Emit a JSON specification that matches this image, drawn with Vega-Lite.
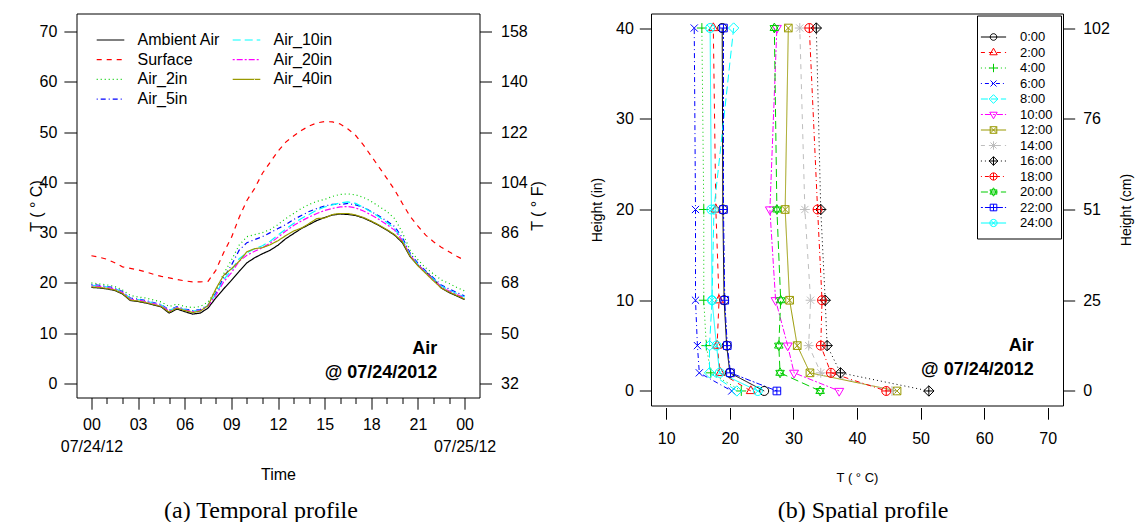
{
  "$schema": "https://vega.github.io/schema/vega-lite/v6.json",
  "padding": {"left": 27.5, "top": 12.5, "right": 0, "bottom": 0},
  "background": "white",
  "spacing": 43.5,
  "config": {
    "view": {"stroke": "black", "strokeWidth": 1},
    "font": "Liberation Sans",
    "axis": {"grid": false, "domain": false, "tickColor": "black", "labelColor": "black", "titleColor": "black", "labelFont": "Liberation Sans", "titleFont": "Liberation Sans", "titleFontWeight": "normal", "tickWidth": 1, "labelFontSize": 16},
    "legend": {"labelFont": "Liberation Sans", "labelColor": "black"}
  },
  "datasets": {
    "temporal": [
      {"h": 0, "Ambient Air": 19.1, "Surface": 25.4, "Air_2in": 20.0, "Air_5in": 19.7, "Air_10in": 19.5, "Air_20in": 19.4, "Air_40in": 19.2},
      {"h": 0.5, "Ambient Air": 19.0, "Surface": 25.1, "Air_2in": 19.8, "Air_5in": 19.5, "Air_10in": 19.4, "Air_20in": 19.3, "Air_40in": 19.1},
      {"h": 1, "Ambient Air": 18.8, "Surface": 24.7, "Air_2in": 19.6, "Air_5in": 19.3, "Air_10in": 19.2, "Air_20in": 19.1, "Air_40in": 18.9},
      {"h": 1.5, "Ambient Air": 18.5, "Surface": 24.0, "Air_2in": 19.3, "Air_5in": 19.0, "Air_10in": 18.9, "Air_20in": 18.8, "Air_40in": 18.6},
      {"h": 2, "Ambient Air": 17.8, "Surface": 23.2, "Air_2in": 18.6, "Air_5in": 18.3, "Air_10in": 18.2, "Air_20in": 18.1, "Air_40in": 17.9},
      {"h": 2.5, "Ambient Air": 16.5, "Surface": 22.9, "Air_2in": 17.5, "Air_5in": 17.0, "Air_10in": 16.9, "Air_20in": 16.8, "Air_40in": 16.6},
      {"h": 3, "Ambient Air": 16.3, "Surface": 22.6, "Air_2in": 17.2, "Air_5in": 16.8, "Air_10in": 16.7, "Air_20in": 16.6, "Air_40in": 16.4},
      {"h": 3.5, "Ambient Air": 16.0, "Surface": 22.2, "Air_2in": 17.0, "Air_5in": 16.5, "Air_10in": 16.4, "Air_20in": 16.3, "Air_40in": 16.1},
      {"h": 4, "Ambient Air": 15.6, "Surface": 21.7, "Air_2in": 16.6, "Air_5in": 16.1, "Air_10in": 16.0, "Air_20in": 15.9, "Air_40in": 15.7},
      {"h": 4.5, "Ambient Air": 15.2, "Surface": 21.3, "Air_2in": 16.2, "Air_5in": 15.7, "Air_10in": 15.6, "Air_20in": 15.5, "Air_40in": 15.3},
      {"h": 5, "Ambient Air": 14.0, "Surface": 21.0, "Air_2in": 15.3, "Air_5in": 14.6, "Air_10in": 14.5, "Air_20in": 14.4, "Air_40in": 14.2},
      {"h": 5.5, "Ambient Air": 14.8, "Surface": 20.7, "Air_2in": 15.8, "Air_5in": 15.3, "Air_10in": 15.2, "Air_20in": 15.1, "Air_40in": 15.0},
      {"h": 6, "Ambient Air": 14.3, "Surface": 20.4, "Air_2in": 15.3, "Air_5in": 14.8, "Air_10in": 14.7, "Air_20in": 14.6, "Air_40in": 14.5},
      {"h": 6.5, "Ambient Air": 13.8, "Surface": 20.2, "Air_2in": 15.1, "Air_5in": 14.5, "Air_10in": 14.4, "Air_20in": 14.3, "Air_40in": 14.1},
      {"h": 7, "Ambient Air": 14.0, "Surface": 20.2, "Air_2in": 15.3, "Air_5in": 14.7, "Air_10in": 14.6, "Air_20in": 14.5, "Air_40in": 14.4},
      {"h": 7.5, "Ambient Air": 15.0, "Surface": 20.3, "Air_2in": 16.2, "Air_5in": 15.6, "Air_10in": 15.5, "Air_20in": 15.4, "Air_40in": 15.5},
      {"h": 8, "Ambient Air": 17.0, "Surface": 22.5, "Air_2in": 18.5, "Air_5in": 18.0, "Air_10in": 17.8, "Air_20in": 17.5, "Air_40in": 18.8},
      {"h": 8.5, "Ambient Air": 18.8, "Surface": 26.0, "Air_2in": 21.8, "Air_5in": 21.0, "Air_10in": 20.6, "Air_20in": 20.2, "Air_40in": 21.5},
      {"h": 9, "Ambient Air": 20.5, "Surface": 29.0, "Air_2in": 24.5, "Air_5in": 23.5, "Air_10in": 22.5, "Air_20in": 22.0, "Air_40in": 22.8},
      {"h": 9.5, "Ambient Air": 22.3, "Surface": 33.0, "Air_2in": 27.5, "Air_5in": 26.5, "Air_10in": 24.8, "Air_20in": 24.3, "Air_40in": 24.3},
      {"h": 10, "Ambient Air": 24.0, "Surface": 36.4, "Air_2in": 29.2, "Air_5in": 28.0, "Air_10in": 26.0, "Air_20in": 25.5, "Air_40in": 26.2},
      {"h": 10.5, "Ambient Air": 25.0, "Surface": 38.8, "Air_2in": 29.6, "Air_5in": 28.6, "Air_10in": 26.8, "Air_20in": 26.3, "Air_40in": 26.8},
      {"h": 11, "Ambient Air": 25.8, "Surface": 41.8, "Air_2in": 30.0, "Air_5in": 29.2, "Air_10in": 27.4, "Air_20in": 27.0, "Air_40in": 27.0},
      {"h": 11.5, "Ambient Air": 26.5, "Surface": 44.0, "Air_2in": 30.6, "Air_5in": 30.0, "Air_10in": 28.3, "Air_20in": 27.9, "Air_40in": 27.6},
      {"h": 12, "Ambient Air": 27.5, "Surface": 46.2, "Air_2in": 31.6, "Air_5in": 30.8, "Air_10in": 29.5, "Air_20in": 29.1, "Air_40in": 28.4},
      {"h": 12.5, "Ambient Air": 28.8, "Surface": 48.0, "Air_2in": 32.8, "Air_5in": 31.6, "Air_10in": 30.7, "Air_20in": 30.3, "Air_40in": 29.4},
      {"h": 13, "Ambient Air": 29.8, "Surface": 49.2, "Air_2in": 33.8, "Air_5in": 32.6, "Air_10in": 31.8, "Air_20in": 31.4, "Air_40in": 30.3},
      {"h": 13.5, "Ambient Air": 30.8, "Surface": 50.3, "Air_2in": 34.8, "Air_5in": 33.4, "Air_10in": 32.8, "Air_20in": 32.3, "Air_40in": 30.9},
      {"h": 14, "Ambient Air": 31.6, "Surface": 51.2, "Air_2in": 35.6, "Air_5in": 34.2, "Air_10in": 33.6, "Air_20in": 33.1, "Air_40in": 31.8},
      {"h": 14.5, "Ambient Air": 32.4, "Surface": 51.8, "Air_2in": 36.2, "Air_5in": 34.8, "Air_10in": 34.5, "Air_20in": 33.8, "Air_40in": 32.8},
      {"h": 15, "Ambient Air": 33.0, "Surface": 52.1, "Air_2in": 36.6, "Air_5in": 35.3, "Air_10in": 35.1, "Air_20in": 34.4, "Air_40in": 32.9},
      {"h": 15.5, "Ambient Air": 33.5, "Surface": 52.0, "Air_2in": 37.2, "Air_5in": 35.6, "Air_10in": 35.5, "Air_20in": 34.8, "Air_40in": 33.6},
      {"h": 16, "Ambient Air": 33.7, "Surface": 51.6, "Air_2in": 37.6, "Air_5in": 35.6, "Air_10in": 35.9, "Air_20in": 35.1, "Air_40in": 33.8},
      {"h": 16.5, "Ambient Air": 33.6, "Surface": 50.6, "Air_2in": 37.7, "Air_5in": 35.8, "Air_10in": 36.1, "Air_20in": 35.2, "Air_40in": 33.8},
      {"h": 17, "Ambient Air": 33.4, "Surface": 49.3, "Air_2in": 37.5, "Air_5in": 35.5, "Air_10in": 35.8, "Air_20in": 34.9, "Air_40in": 33.5},
      {"h": 17.5, "Ambient Air": 32.9, "Surface": 47.4, "Air_2in": 37.0, "Air_5in": 35.0, "Air_10in": 35.0, "Air_20in": 34.3, "Air_40in": 33.0},
      {"h": 18, "Ambient Air": 32.2, "Surface": 45.2, "Air_2in": 36.2, "Air_5in": 34.2, "Air_10in": 34.1, "Air_20in": 33.5, "Air_40in": 32.3},
      {"h": 18.5, "Ambient Air": 31.4, "Surface": 43.0, "Air_2in": 35.2, "Air_5in": 33.3, "Air_10in": 33.1, "Air_20in": 32.6, "Air_40in": 31.5},
      {"h": 19, "Ambient Air": 30.5, "Surface": 40.8, "Air_2in": 34.2, "Air_5in": 32.3, "Air_10in": 32.0, "Air_20in": 31.6, "Air_40in": 30.6},
      {"h": 19.5, "Ambient Air": 29.5, "Surface": 38.5, "Air_2in": 32.8, "Air_5in": 31.2, "Air_10in": 30.8, "Air_20in": 30.5, "Air_40in": 29.6},
      {"h": 20, "Ambient Air": 28.0, "Surface": 35.8, "Air_2in": 30.0, "Air_5in": 29.0, "Air_10in": 28.6, "Air_20in": 28.4, "Air_40in": 28.2},
      {"h": 20.5, "Ambient Air": 25.2, "Surface": 33.2, "Air_2in": 26.5, "Air_5in": 25.9, "Air_10in": 25.6, "Air_20in": 25.5, "Air_40in": 25.3},
      {"h": 21, "Ambient Air": 23.5, "Surface": 31.3, "Air_2in": 24.6, "Air_5in": 23.9, "Air_10in": 23.7, "Air_20in": 23.6, "Air_40in": 23.4},
      {"h": 21.5, "Ambient Air": 22.2, "Surface": 29.5, "Air_2in": 23.0, "Air_5in": 22.4, "Air_10in": 22.2, "Air_20in": 22.1, "Air_40in": 21.9},
      {"h": 22, "Ambient Air": 20.8, "Surface": 28.2, "Air_2in": 21.8, "Air_5in": 21.0, "Air_10in": 20.8, "Air_20in": 20.6, "Air_40in": 20.4},
      {"h": 22.5, "Ambient Air": 19.0, "Surface": 27.1, "Air_2in": 20.6, "Air_5in": 19.6, "Air_10in": 19.4, "Air_20in": 19.2, "Air_40in": 19.0},
      {"h": 23, "Ambient Air": 18.1, "Surface": 26.2, "Air_2in": 19.9, "Air_5in": 18.8, "Air_10in": 18.6, "Air_20in": 18.4, "Air_40in": 18.2},
      {"h": 23.5, "Ambient Air": 17.4, "Surface": 25.3, "Air_2in": 19.1, "Air_5in": 18.1, "Air_10in": 17.9, "Air_20in": 17.7, "Air_40in": 17.5},
      {"h": 24, "Ambient Air": 16.7, "Surface": 24.5, "Air_2in": 18.4, "Air_5in": 17.4, "Air_10in": 17.2, "Air_20in": 17.0, "Air_40in": 16.8}
    ],
    "annotL": [
      {"h": 22.25, "T": 6.8, "label": "Air"},
      {"h": 22.25, "T": 2.0, "label": "@ 07/24/2012"}
    ],
    "profile": [
      {"t": "0:00", "H": 0, "T": 25.4}, {"t": "0:00", "H": 2, "T": 20.0}, {"t": "0:00", "H": 5, "T": 19.5}, {"t": "0:00", "H": 10, "T": 19.1}, {"t": "0:00", "H": 20, "T": 18.9}, {"t": "0:00", "H": 40, "T": 18.8},
      {"t": "2:00", "H": 0, "T": 23.3}, {"t": "2:00", "H": 2, "T": 18.5}, {"t": "2:00", "H": 5, "T": 18.0}, {"t": "2:00", "H": 10, "T": 18.3}, {"t": "2:00", "H": 20, "T": 17.8}, {"t": "2:00", "H": 40, "T": 17.4},
      {"t": "4:00", "H": 0, "T": 21.8}, {"t": "4:00", "H": 2, "T": 17.0}, {"t": "4:00", "H": 5, "T": 16.3}, {"t": "4:00", "H": 10, "T": 15.9}, {"t": "4:00", "H": 20, "T": 15.9}, {"t": "4:00", "H": 40, "T": 15.6},
      {"t": "6:00", "H": 0, "T": 20.3}, {"t": "6:00", "H": 2, "T": 15.2}, {"t": "6:00", "H": 5, "T": 14.9}, {"t": "6:00", "H": 10, "T": 14.6}, {"t": "6:00", "H": 20, "T": 14.6}, {"t": "6:00", "H": 40, "T": 14.4},
      {"t": "8:00", "H": 0, "T": 21.1}, {"t": "8:00", "H": 2, "T": 16.8}, {"t": "8:00", "H": 5, "T": 16.8}, {"t": "8:00", "H": 10, "T": 17.2}, {"t": "8:00", "H": 20, "T": 17.5}, {"t": "8:00", "H": 40, "T": 20.6},
      {"t": "10:00", "H": 0, "T": 37.2}, {"t": "10:00", "H": 2, "T": 30.1}, {"t": "10:00", "H": 5, "T": 29.1}, {"t": "10:00", "H": 10, "T": 27.2}, {"t": "10:00", "H": 20, "T": 26.3}, {"t": "10:00", "H": 40, "T": 27.4},
      {"t": "12:00", "H": 0, "T": 46.3}, {"t": "12:00", "H": 2, "T": 32.6}, {"t": "12:00", "H": 5, "T": 30.6}, {"t": "12:00", "H": 10, "T": 29.4}, {"t": "12:00", "H": 20, "T": 28.7}, {"t": "12:00", "H": 40, "T": 29.2},
      {"t": "14:00", "H": 0, "T": 45.5}, {"t": "14:00", "H": 2, "T": 34.3}, {"t": "14:00", "H": 5, "T": 32.4}, {"t": "14:00", "H": 10, "T": 32.7}, {"t": "14:00", "H": 20, "T": 31.8}, {"t": "14:00", "H": 40, "T": 31.0},
      {"t": "16:00", "H": 0, "T": 51.3}, {"t": "16:00", "H": 2, "T": 37.4}, {"t": "16:00", "H": 5, "T": 35.3}, {"t": "16:00", "H": 10, "T": 35.0}, {"t": "16:00", "H": 20, "T": 34.3}, {"t": "16:00", "H": 40, "T": 33.6},
      {"t": "18:00", "H": 0, "T": 44.6}, {"t": "18:00", "H": 2, "T": 35.9}, {"t": "18:00", "H": 5, "T": 34.3}, {"t": "18:00", "H": 10, "T": 34.5}, {"t": "18:00", "H": 20, "T": 33.8}, {"t": "18:00", "H": 40, "T": 32.5},
      {"t": "20:00", "H": 0, "T": 34.2}, {"t": "20:00", "H": 2, "T": 27.9}, {"t": "20:00", "H": 5, "T": 27.7}, {"t": "20:00", "H": 10, "T": 28.0}, {"t": "20:00", "H": 20, "T": 27.4}, {"t": "20:00", "H": 40, "T": 27.0},
      {"t": "22:00", "H": 0, "T": 27.4}, {"t": "22:00", "H": 2, "T": 20.1}, {"t": "22:00", "H": 5, "T": 19.6}, {"t": "22:00", "H": 10, "T": 19.2}, {"t": "22:00", "H": 20, "T": 19.0}, {"t": "22:00", "H": 40, "T": 19.0},
      {"t": "24:00", "H": 0, "T": 24.4}, {"t": "24:00", "H": 2, "T": 18.4}, {"t": "24:00", "H": 5, "T": 17.9}, {"t": "24:00", "H": 10, "T": 17.2}, {"t": "24:00", "H": 20, "T": 17.1}, {"t": "24:00", "H": 40, "T": 16.9}
    ],
    "annotR": [
      {"T": 67.8, "H": 5.0, "label": "Air"},
      {"T": 67.8, "H": 2.3, "label": "@ 07/24/2012"}
    ]
  },
  "hconcat": [
    {
      "width": 403,
      "height": 384,
      "title": {"text": "(a) Temporal profile", "orient": "bottom", "font": "Liberation Serif", "fontSize": 24, "fontWeight": "normal", "color": "black", "offset": 16.5, "dx": -17, "frame": "group"},
      "layer": [
        {
          "data": {"name": "temporal"},
          "transform": [{"fold": ["Ambient Air", "Surface", "Air_2in", "Air_5in", "Air_10in", "Air_20in", "Air_40in"], "as": ["series", "T"]}],
          "mark": {"type": "line", "strokeWidth": 1.2},
          "encoding": {
            "x": {"field": "h", "type": "quantitative", "scale": {"domain": [-0.96, 24.96], "nice": false, "zero": false},
              "axis": {"values": [0,1,2,3,4,5,6,7,8,9,10,11,12,13,14,15,16,17,18,19,20,21,22,23,24],
                "tickSize": {"condition": {"test": "datum.value % 3 === 0", "value": 11.7}, "value": 6},
                "labelExpr": "datum.value === 0 ? ['00','07/24/12'] : datum.value === 24 ? ['00','07/25/12'] : (datum.value % 3 === 0 ? (datum.value < 10 ? '0' : '') + datum.value : '')",
                "labelPadding": 7, "labelLineHeight": 22, "labelFlush": false, "labelOverlap": false, "labelBaseline": "top",
                "title": "Time", "titleFontSize": 16, "titlePadding": 12}},
            "y": {"field": "T", "type": "quantitative", "scale": {"domain": [-2.78, 73.56], "nice": false, "zero": false},
              "axis": {"values": [0,10,20,30,40,50,60,70], "tickSize": 12.6, "labelPadding": 7, "title": "T ( ° C)", "titleFontSize": 16, "titlePadding": -5.5}},
            "color": {"field": "series", "type": "nominal",
              "scale": {"domain": ["Ambient Air", "Surface", "Air_2in", "Air_5in", "Air_10in", "Air_20in", "Air_40in"],
                        "range": ["black", "#FF0000", "#00CD00", "#0000FF", "#00FFFF", "#FF00FF", "#999900"]},
              "legend": {"orient": "none", "legendX": 26, "legendY": 18.5, "columns": 2, "title": null, "padding": 0, "labelFontSize": 16, "labelOffset": 19, "columnPadding": 9, "rowPadding": 3.7, "symbolType": "M-2.3,0L2.3,0", "symbolSize": 144, "symbolStrokeWidth": 1.2}},
            "strokeDash": {"field": "series", "type": "nominal",
              "scale": {"domain": ["Ambient Air", "Surface", "Air_2in", "Air_5in", "Air_10in", "Air_20in", "Air_40in"],
                        "range": [[1,0],[5,5],[1,3],[1,3,5,3],[8,4],[2,2,6,2],[1,0]]},
              "legend": {"orient": "none", "legendX": 26, "legendY": 18.5, "columns": 2, "title": null, "padding": 0, "labelFontSize": 16, "labelOffset": 19, "columnPadding": 9, "rowPadding": 3.7, "symbolType": "M-2.3,0L2.3,0", "symbolSize": 144, "symbolStrokeWidth": 1.2}}
          }
        },
        {
          "data": {"name": "annotL"},
          "mark": {"type": "text", "align": "right", "baseline": "middle", "fontWeight": "bold", "fontSize": 18, "font": "Liberation Sans", "color": "black"},
          "encoding": {
            "x": {"field": "h", "type": "quantitative", "scale": {"domain": [-0.96, 24.96], "nice": false, "zero": false}, "axis": null},
            "y": {"field": "T", "type": "quantitative", "scale": {"domain": [-2.78, 73.56], "nice": false, "zero": false},
              "axis": {"orient": "right", "values": [0,10,20,30,40,50,60,70], "labelExpr": "round(datum.value*1.8+32)", "tickSize": 12, "labelPadding": 9, "title": "T ( ° F)", "titleFontSize": 16, "titleAngle": 270, "titleBaseline": "top", "titlePadding": 2}},
            "text": {"field": "label"}
          }
        }
      ],
      "resolve": {"scale": {"x": "independent", "y": "independent"}}
    },
    {
      "width": 412,
      "height": 392,
      "title": {"text": "(b) Spatial profile", "orient": "bottom", "font": "Liberation Serif", "fontSize": 24, "fontWeight": "normal", "color": "black", "offset": 14.5, "dx": 6, "frame": "group"},
      "layer": [
        {
          "data": {"name": "profile"},
          "mark": {"type": "line", "strokeWidth": 1},
          "encoding": {
            "x": {"field": "T", "type": "quantitative", "scale": {"domain": [7.6, 72.4], "nice": false, "zero": false},
              "axis": {"values": [10,20,30,40,50,60,70], "offset": 2, "tickSize": 11.7, "labelPadding": 11, "labelFlush": false, "title": "T ( ° C)", "titleFontSize": 13, "titlePadding": 25}},
            "y": {"field": "H", "type": "quantitative", "scale": {"domain": [-1.6, 41.6], "nice": false, "zero": false},
              "axis": {"values": [0,10,20,30,40], "tickSize": 11.7, "labelPadding": 6, "title": "Height (in)", "titleFontSize": 14, "titlePadding": 11}},
            "order": {"field": "H", "type": "quantitative"},
            "color": {"field": "t", "type": "nominal", "legend": null,
              "scale": {"domain": ["0:00","2:00","4:00","6:00","8:00","10:00","12:00","14:00","16:00","18:00","20:00","22:00","24:00"],
                        "range": ["black","#FF0000","#00CD00","#0000FF","#00FFFF","#FF00FF","#999900","#BEBEBE","black","#FF0000","#00CD00","#0000FF","#00FFFF"]}},
            "strokeDash": {"field": "t", "type": "nominal", "legend": null,
              "scale": {"domain": ["0:00","2:00","4:00","6:00","8:00","10:00","12:00","14:00","16:00","18:00","20:00","22:00","24:00"],
                        "range": [[1,0],[5,5],[1,3],[1,3,5,3],[8,4],[2,2,6,2],[1,0],[5,5],[1,3],[1,3,5,3],[8,4],[2,2,6,2],[1,0]]}}
          }
        },
        {
          "data": {"name": "profile"},
          "mark": {"type": "point", "filled": false, "size": 81, "strokeWidth": 1, "opacity": 1},
          "encoding": {
            "x": {"field": "T", "type": "quantitative", "scale": {"domain": [7.6, 72.4], "nice": false, "zero": false}},
            "y": {"field": "H", "type": "quantitative", "scale": {"domain": [-1.6, 41.6], "nice": false, "zero": false}, "axis": null},
            "color": {"field": "t", "type": "nominal", "legend": null,
              "scale": {"domain": ["0:00","2:00","4:00","6:00","8:00","10:00","12:00","14:00","16:00","18:00","20:00","22:00","24:00"],
                        "range": ["black","#FF0000","#00CD00","#0000FF","#00FFFF","#FF00FF","#999900","#BEBEBE","black","#FF0000","#00CD00","#0000FF","#00FFFF"]}},
            "shape": {"field": "t", "type": "nominal", "legend": null,
              "scale": {"domain": ["0:00","2:00","4:00","6:00","8:00","10:00","12:00","14:00","16:00","18:00","20:00","22:00","24:00"],
                        "range": [
                          "M1,0A1,1 0 1,1 -1,0A1,1 0 1,1 1,0Z",
                          "M0,-1.15L1,0.58L-1,0.58Z",
                          "M-1.1,0L1.1,0M0,-1.1L0,1.1",
                          "M-0.8,-0.8L0.8,0.8M-0.8,0.8L0.8,-0.8",
                          "M0,-1.15L1.15,0L0,1.15L-1.15,0Z",
                          "M0,1.15L1,-0.58L-1,-0.58Z",
                          "M-0.85,-0.85L0.85,-0.85L0.85,0.85L-0.85,0.85ZM-0.85,-0.85L0.85,0.85M-0.85,0.85L0.85,-0.85",
                          "M-1.1,0L1.1,0M0,-1.1L0,1.1M-0.8,-0.8L0.8,0.8M-0.8,0.8L0.8,-0.8",
                          "M0,-1.15L1.15,0L0,1.15L-1.15,0ZM-1.15,0L1.15,0M0,-1.15L0,1.15",
                          "M1,0A1,1 0 1,1 -1,0A1,1 0 1,1 1,0ZM-1,0L1,0M0,-1L0,1",
                          "M0,-1.1L0.95,0.55L-0.95,0.55ZM0,1.1L0.95,-0.55L-0.95,-0.55Z",
                          "M-0.85,-0.85L0.85,-0.85L0.85,0.85L-0.85,0.85ZM-0.85,0L0.85,0M0,-0.85L0,0.85",
                          "M1,0A1,1 0 1,1 -1,0A1,1 0 1,1 1,0ZM-0.7,-0.7L0.7,0.7M-0.7,0.7L0.7,-0.7"
                        ]}}
          }
        },
        {
          "data": {"name": "profile"},
          "transform": [{"filter": "datum.H < -100"}],
          "mark": {"type": "point", "filled": false, "size": 144, "strokeWidth": 1, "opacity": 1},
          "encoding": {
            "x": {"field": "T", "type": "quantitative", "scale": {"domain": [7.6, 72.4], "nice": false, "zero": false}},
            "y": {"field": "H", "type": "quantitative", "scale": {"domain": [-1.6, 41.6], "nice": false, "zero": false}, "axis": null},
            "color": {"field": "t", "type": "nominal",
              "scale": {"domain": ["0:00","2:00","4:00","6:00","8:00","10:00","12:00","14:00","16:00","18:00","20:00","22:00","24:00"],
                        "range": ["black","#FF0000","#00CD00","#0000FF","#00FFFF","#FF00FF","#999900","#BEBEBE","black","#FF0000","#00CD00","#0000FF","#00FFFF"]},
              "legend": {"orient": "top-right", "offset": 2, "title": " ", "titleFontSize": 7, "titlePadding": 0, "columns": 1, "strokeColor": "black", "fillColor": "white", "padding": 8, "labelFontSize": 13, "labelOffset": 20, "symbolOffset": 2, "rowPadding": 1.5, "symbolSize": 144, "symbolStrokeWidth": 1}},
            "shape": {"field": "t", "type": "nominal",
              "scale": {"domain": ["0:00","2:00","4:00","6:00","8:00","10:00","12:00","14:00","16:00","18:00","20:00","22:00","24:00"],
                        "range": [
                          "M-2.1,0L2.1,0M0.55,0A0.55,0.55 0 1,1 -0.55,0A0.55,0.55 0 1,1 0.55,0Z",
                          "M-2.1,0L-1.43,0M-0.77,0L-0.1,0M0.57,0L1.23,0M1.9,0L2.1,0M0,-0.72L0.62,0.38L-0.62,0.38Z",
                          "M-2.1,0L-1.93,0M-1.43,0L-1.27,0M-0.77,0L-0.6,0M-0.1,0L0.07,0M0.57,0L0.73,0M1.23,0L1.4,0M1.9,0L2.07,0M-0.7,0L0.7,0M0,-0.7L0,0.7",
                          "M-2.1,0L-1.93,0M-1.43,0L-0.77,0M-0.27,0L-0.1,0M0.4,0L1.07,0M1.57,0L1.73,0M-0.5,-0.5L0.5,0.5M-0.5,0.5L0.5,-0.5",
                          "M-2.1,0L-0.93,0M-0.43,0L0.73,0M1.23,0L2.1,0M0,-0.72L0.72,0L0,0.72L-0.72,0Z",
                          "M-2.1,0L-1.77,0M-1.43,0L-0.43,0M-0.1,0L0.23,0M0.57,0L1.57,0M1.9,0L2.1,0M0,0.72L0.62,-0.38L-0.62,-0.38Z",
                          "M-2.1,0L2.1,0M-0.55,-0.55L0.55,-0.55L0.55,0.55L-0.55,0.55ZM-0.55,-0.55L0.55,0.55M-0.55,0.55L0.55,-0.55",
                          "M-2.1,0L-1.43,0M-0.77,0L-0.1,0M0.57,0L1.23,0M1.9,0L2.1,0M-0.7,0L0.7,0M0,-0.7L0,0.7M-0.5,-0.5L0.5,0.5M-0.5,0.5L0.5,-0.5",
                          "M-2.1,0L-1.93,0M-1.43,0L-1.27,0M-0.77,0L-0.6,0M-0.1,0L0.07,0M0.57,0L0.73,0M1.23,0L1.4,0M1.9,0L2.07,0M0,-0.72L0.72,0L0,0.72L-0.72,0ZM-0.72,0L0.72,0M0,-0.72L0,0.72",
                          "M-2.1,0L-1.93,0M-1.43,0L-0.77,0M-0.27,0L-0.1,0M0.4,0L1.07,0M1.57,0L1.73,0M0.6,0A0.6,0.6 0 1,1 -0.6,0A0.6,0.6 0 1,1 0.6,0ZM-0.6,0L0.6,0M0,-0.6L0,0.6",
                          "M-2.1,0L-0.93,0M-0.43,0L0.73,0M1.23,0L2.1,0M0,-0.7L0.6,0.35L-0.6,0.35ZM0,0.7L0.6,-0.35L-0.6,-0.35Z",
                          "M-2.1,0L-1.77,0M-1.43,0L-0.43,0M-0.1,0L0.23,0M0.57,0L1.57,0M1.9,0L2.1,0M-0.55,-0.55L0.55,-0.55L0.55,0.55L-0.55,0.55ZM-0.55,0L0.55,0M0,-0.55L0,0.55",
                          "M-2.1,0L2.1,0M0.6,0A0.6,0.6 0 1,1 -0.6,0A0.6,0.6 0 1,1 0.6,0ZM-0.42,-0.42L0.42,0.42M-0.42,0.42L0.42,-0.42"
                        ]},
              "legend": {"orient": "top-right", "offset": 2, "title": " ", "titleFontSize": 7, "titlePadding": 0, "columns": 1, "strokeColor": "black", "fillColor": "white", "padding": 8, "labelFontSize": 13, "labelOffset": 20, "symbolOffset": 2, "rowPadding": 1.5, "symbolSize": 144, "symbolStrokeWidth": 1}}
          }
        },
        {
          "data": {"name": "annotR"},
          "mark": {"type": "text", "align": "right", "baseline": "middle", "fontWeight": "bold", "fontSize": 18, "font": "Liberation Sans", "color": "black"},
          "encoding": {
            "x": {"field": "T", "type": "quantitative", "scale": {"domain": [7.6, 72.4], "nice": false, "zero": false}},
            "y": {"field": "H", "type": "quantitative", "scale": {"domain": [-1.6, 41.6], "nice": false, "zero": false},
              "axis": {"orient": "right", "values": [0,10,20,30,40], "labelExpr": "round(datum.value*2.54)", "tickSize": 11.7, "labelPadding": 8, "title": "Height (cm)", "titleFontSize": 14, "titleAngle": 270, "titleBaseline": "top", "titlePadding": 10}},
            "text": {"field": "label"}
          }
        }
      ],
      "resolve": {"scale": {"y": "independent", "color": "independent", "shape": "independent", "strokeDash": "independent"}}
    }
  ]
}
